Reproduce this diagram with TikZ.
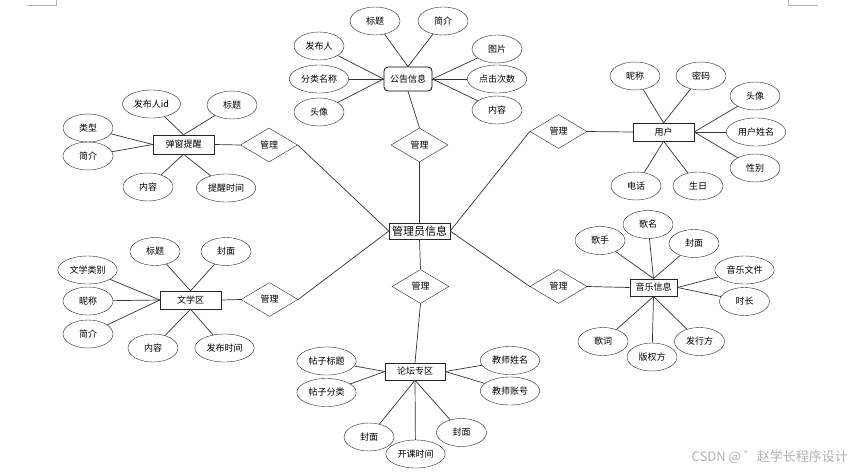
\documentclass[tikz,border=0pt]{standalone}
\usepackage{fontspec}
\setmainfont{Noto Sans CJK SC}
\usetikzlibrary{shapes.geometric}
\tikzset{
  attr/.style={draw=black!85, ellipse, minimum width=50pt, minimum height=28pt, inner sep=3pt, font=\fontsize{9}{10}\selectfont},
  ent/.style={draw=black!85, rectangle, minimum width=61pt, minimum height=18pt, inner sep=1pt, font=\fontsize{9}{10}\selectfont},
  rel/.style={draw=black!85, diamond, minimum width=57pt, minimum height=34pt, inner sep=0pt, font=\fontsize{9}{10}\selectfont},
  link/.style={draw=black!80, line width=0.7pt},
  cornermark/.style={draw=black!30, line width=0.8pt}
}
\begin{document}
\begin{tikzpicture}[x=1pt,y=-1pt]
\useasboundingbox (0,0) rectangle (855,474);
% corner marks
\draw[cornermark] (27,5) -- (56,5) -- (56,0);
\draw[cornermark] (788,0) -- (788,5) -- (818,5);
% entities
\node[ent, draw=black, line width=0.8pt, rounded corners=4pt, minimum width=48pt, minimum height=24pt] (gonggao) at (408,79) {公告信息};
\node[ent, font=\fontsize{11}{12}\selectfont, minimum height=16pt] (admin) at (419.5,231) {管理员信息};
\node[ent, minimum height=19pt] (tanchuang) at (183.5,144.5) {弹窗提醒};
\node[ent] (yonghu) at (663.5,132) {用户};
\node[ent] (wenxue) at (190.5,300) {文学区};
\node[ent, minimum width=47pt, minimum height=17pt, line width=1pt] (yinyue) at (653.5,287.5) {音乐信息};
\node[ent, minimum width=60pt, minimum height=17pt] (luntan) at (415,371.5) {论坛专区};
% relations
\node[rel] (m1) at (419.5,145) {管理};
\node[rel] (m0) at (269,145) {管理};
\node[rel] (m2) at (558.5,131.5) {管理};
\node[rel] (m3) at (558.5,286.5) {管理};
\node[rel] (m4) at (269.5,299.5) {管理};
\node[rel] (m5) at (420.5,286.5) {管理};
% attributes of gonggao
\node[attr] (g1) at (375,21) {标题};
\node[attr] (g2) at (443,21) {简介};
\node[attr] (g3) at (319,46) {发布人};
\node[attr] (g4) at (319,79) {分类名称};
\node[attr] (g5) at (319,112) {头像};
\node[attr] (g6) at (497,49) {图片};
\node[attr] (g7) at (497,79) {点击次数};
\node[attr] (g8) at (497,110) {内容};
% attributes of tanchuang
\node[attr] (t1) at (151.5,104) {发布人id};
\node[attr] (t2) at (232,105) {标题};
\node[attr] (t3) at (88,128) {类型};
\node[attr] (t4) at (88,156) {简介};
\node[attr] (t5) at (148,187) {内容};
\node[attr] (t6) at (226,188) {提醒时间};
% attributes of yonghu
\node[attr] (y1) at (635,76) {昵称};
\node[attr] (y2) at (701,76) {密码};
\node[attr] (y3) at (755,96) {头像};
\node[attr] (y4) at (756,132) {用户姓名};
\node[attr] (y5) at (755,168) {性别};
\node[attr] (y6) at (636,186) {电话};
\node[attr] (y7) at (698,186) {生日};
% attributes of wenxue
\node[attr] (w1) at (155,251.5) {标题};
\node[attr] (w2) at (226,251.5) {封面};
\node[attr] (w3) at (87.5,270) {文学类别};
\node[attr] (w4) at (88,301) {昵称};
\node[attr] (w5) at (88,334) {简介};
\node[attr] (w6) at (153,348) {内容};
\node[attr] (w7) at (224.5,348) {发布时间};
% attributes of yinyue
\node[attr] (s1) at (600,240.5) {歌手};
\node[attr] (s2) at (648,224.5) {歌名};
\node[attr] (s3) at (694,243.5) {封面};
\node[attr] (s4) at (744.5,270) {音乐文件};
\node[attr] (s5) at (744.5,301.5) {时长};
\node[attr] (s6) at (603,341.5) {歌词};
\node[attr] (s7) at (652,357) {版权方};
\node[attr] (s8) at (699.5,341.5) {发行方};
% attributes of luntan
\node[attr] (l1) at (326.5,361) {帖子标题};
\node[attr] (l2) at (326.5,392.5) {帖子分类};
\node[attr] (l3) at (510,360.5) {教师姓名};
\node[attr] (l4) at (510,391) {教师账号};
\node[attr] (l5) at (369,437) {封面};
\node[attr] (l6) at (415.5,454) {开课时间};
\node[attr] (l7) at (461.5,432.5) {封面};
% relation links
\draw[link] (gonggao.south) -- (m1.north);
\draw[link] (m1.south) -- (admin.north);
\draw[link] (tanchuang.east) -- (m0.west);
\draw[link] (m0.east) -- (admin.west);
\draw[link] (admin.east) -- (m2.west);
\draw[link] (m2.east) -- (yonghu.west);
\draw[link] (admin.east) -- (m3.west);
\draw[link] (m3.east) -- (yinyue.west);
\draw[link] (wenxue.east) -- (m4.west);
\draw[link] (m4.east) -- (admin.west);
\draw[link] (admin.south) -- (m5.north);
\draw[link] (m5.south) -- (luntan.north);
% attribute links
\draw[link] (g1) -- (gonggao.north);
\draw[link] (g2) -- (gonggao.north);
\draw[link] (g3) -- (gonggao.west);
\draw[link] (g4) -- (gonggao.west);
\draw[link] (g5) -- (gonggao.west);
\draw[link] (g6) -- (gonggao.east);
\draw[link] (g7) -- (gonggao.east);
\draw[link] (g8) -- (gonggao.east);
\draw[link] (t1) -- (tanchuang.north);
\draw[link] (t2) -- (tanchuang.north);
\draw[link] (t3) -- (tanchuang.west);
\draw[link] (t4) -- (tanchuang.west);
\draw[link] (t5) -- (tanchuang.south);
\draw[link] (t6) -- (tanchuang.south);
\draw[link] (y1) -- (yonghu.north);
\draw[link] (y2) -- (yonghu.north);
\draw[link] (y3) -- (yonghu.east);
\draw[link] (y4) -- (yonghu.east);
\draw[link] (y5) -- (yonghu.east);
\draw[link] (y6) -- (yonghu.south);
\draw[link] (y7) -- (yonghu.south);
\draw[link] (w1) -- (wenxue.north);
\draw[link] (w2) -- (wenxue.north);
\draw[link] (w3) -- (wenxue.west);
\draw[link] (w4) -- (wenxue.west);
\draw[link] (w5) -- (wenxue.west);
\draw[link] (w6) -- (wenxue.south);
\draw[link] (w7) -- (wenxue.south);
\draw[link] (s1) -- (yinyue.north);
\draw[link] (s2) -- (yinyue.north);
\draw[link] (s3) -- (yinyue.north);
\draw[link] (s4) -- (yinyue.east);
\draw[link] (s5) -- (yinyue.east);
\draw[link] (s6) -- (yinyue.south);
\draw[link] (s7) -- (yinyue.south);
\draw[link] (s8) -- (yinyue.south);
\draw[link] (l1) -- (luntan.west);
\draw[link] (l2) -- (luntan.west);
\draw[link] (l3) -- (luntan.east);
\draw[link] (l4) -- (luntan.east);
\draw[link] (l5) -- (luntan.south);
\draw[link] (l6) -- (luntan.south);
\draw[link] (l7) -- (luntan.south);
% watermark
\node[anchor=east, text=black!30, font=\fontsize{13}{14}\selectfont, inner sep=0pt] (wm) at (848,457) {CSDN @ ゛赵学长程序设计};
\end{tikzpicture}
\end{document}
